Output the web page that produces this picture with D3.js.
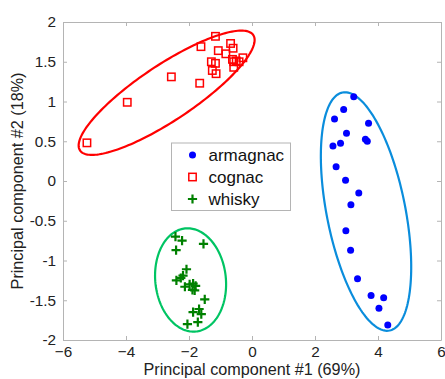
<!DOCTYPE html>
<head>
    <meta charset="utf-8">
    <style>
        body { margin: 0; background: #fff; }
        svg { position: absolute; top: 0; left: 0; font-family: 'Liberation Sans', Arial, sans-serif; }
        .axis path, .axis line { stroke: #b4b4b4; }
        .axis text { font-size: 15.3px; fill: #222; }
        .title { font-size: 16.2px; fill: #222; text-anchor: middle; }
        .legend text { font-size: 17px; fill: #111; }
    </style>
    <script src="https://d3js.org/d3.v7.min.js"></script>
</head>
<body>
<script>
    ////////////// Data //////////////

    const armagnacX = [3.23, 2.91, 2.62, 3.70, 3.00, 3.60, 3.66, 2.81, 2.57, 2.67,
                       2.97, 3.39, 3.14, 2.98, 3.13, 3.35, 3.78, 4.18, 4.03, 4.31]
    const armagnacY = [1.06, 0.90, 0.78, 0.725, 0.60, 0.525, 0.50, 0.475, 0.44, 0.18,
                       0.01, -0.15, -0.30, -0.625, -0.87, -1.23, -1.44, -1.47, -1.60, -1.81]

    const cognacX = [-5.24, -3.96, -2.56, -1.66, -1.62, -1.16, -1.07, -1.29, -1.16, -1.26,
                     -1.14, -0.83, -0.68, -0.60, -0.62, -0.58, -0.50, -0.58, -0.41, -0.29]
    const cognacY = [0.48, 0.99, 1.31, 1.23, 1.69, 1.82, 1.64, 1.50, 1.48, 1.39,
                     1.35, 1.60, 1.73, 1.67, 1.53, 1.50, 1.51, 1.43, 1.50, 1.55]

    const whiskyX = [-2.43, -2.22, -1.54, -2.41, -2.08, -2.19, -2.40, -2.26, -2.13, -1.98,
                     -1.87, -1.79, -1.89, -1.82, -1.50, -1.87, -1.68, -1.61, -1.72, -2.05]
    const whiskyY = [-0.70, -0.75, -0.79, -0.87, -1.11, -1.19, -1.25, -1.22, -1.33, -1.30,
                     -1.29, -1.32, -1.37, -1.375, -1.49, -1.65, -1.61, -1.675, -1.775, -1.80]

    //ellipses: centre, major semi-axis vector, minor semi-axis vector (data units)
    const ellipseCentres = [[3.62, -0.384], [-2.71, 1.11], [-1.95, -1.245]]
    const ellipseMajor = [[0.746, -1.497], [2.75, 0.726], [0.175, -0.648]]
    const ellipseMinor = [[1.225, 0.096], [0.49, -0.29], [1.114, 0.047]]

    const seriesNames = ["armagnac", "cognac", "whisky"]
    const xTicks = [-6, -4, -2, 0, 2, 4, 6]
    const yTicks = [-2, -1.5, -1, -0.5, 0, 0.5, 1, 1.5, 2]

    ////////////// Layout //////////////

    const W = 445, H = 379
    const margin = { top: 22, right: 4, bottom: 39, left: 63 }
    const width = W - margin.left - margin.right,
          height = H - margin.top - margin.bottom

    const markColors = ["#0000ff", "#ff0000", "#008000"]
    const ringColors = ["#0a8ddc", "#ff0000", "#00c463"]

    const svg = d3.select("body").append("svg")
        .attr("width", W).attr("height", H)
    const g = svg.append("g")
        .attr("transform", "translate(" + margin.left + "," + margin.top + ")")

    ////////////// Scales //////////////

    const x = d3.scaleLinear().domain([-6, 6]).range([0, width])
    const y = d3.scaleLinear().domain([-2, 2]).range([height, 0])

    ////////////// Axes (MATLAB style: box, inward ticks) //////////////

    g.append("g").attr("class", "axis")
        .attr("transform", "translate(0," + height + ")")
        .call(d3.axisBottom(x).tickValues(xTicks).tickSize(-4).tickSizeOuter(0).tickPadding(6)
            .tickFormat(d3.format("d")))
    g.append("g").attr("class", "axis")
        .call(d3.axisLeft(y).tickValues(yTicks).tickSize(-4).tickSizeOuter(0).tickPadding(7)
            .tickFormat(d => String(d)))
    g.append("g").attr("class", "axis")
        .call(d3.axisTop(x).tickValues(xTicks).tickSize(-4).tickSizeOuter(0).tickFormat(""))
    g.append("g").attr("class", "axis")
        .attr("transform", "translate(" + width + ",0)")
        .call(d3.axisRight(y).tickValues(yTicks).tickSize(-4).tickSizeOuter(0).tickFormat(""))

    g.selectAll(".axis text").style("font-family", "'Liberation Sans', Arial, sans-serif")
    g.selectAll(".axis .domain").attr("stroke", "#b4b4b4")

    ////////////// Ellipses //////////////

    const tt = d3.range(0, 2 * Math.PI + 0.01, Math.PI / 90)
    const line = d3.line().x(p => x(p[0])).y(p => y(p[1]))
    ellipseCentres.forEach((c, i) => {
        const u = ellipseMajor[i], v = ellipseMinor[i]
        const pts = tt.map(t => [c[0] + u[0] * Math.cos(t) + v[0] * Math.sin(t),
                                 c[1] + u[1] * Math.cos(t) + v[1] * Math.sin(t)])
        g.append("path").attr("d", line(pts) + "Z")
            .attr("fill", "none").attr("stroke", ringColors[i]).attr("stroke-width", 2.2)
    })

    ////////////// Markers //////////////

    const dot = (sel, c) => sel.append("circle").attr("r", 3.5).attr("fill", c)
    const square = (sel, c) => sel.append("rect").attr("x", -3.7).attr("y", -3.7)
        .attr("width", 7.4).attr("height", 7.4)
        .attr("fill", "none").attr("stroke", c).attr("stroke-width", 1.5)
    const plus = (sel, c) => sel.append("path").attr("d", "M-4.6,0H4.6M0,-4.6V4.6")
        .attr("stroke", c).attr("stroke-width", 2.2).attr("fill", "none")
    const markers = [dot, square, plus]

    const series = [[armagnacX, armagnacY], [cognacX, cognacY], [whiskyX, whiskyY]]
    series.forEach((s, i) => {
        s[0].forEach((xv, j) => {
            const m = g.append("g")
                .attr("transform", "translate(" + x(xv) + "," + y(s[1][j]) + ")")
            markers[i](m, markColors[i])
        })
    })

    ////////////// Legend //////////////

    const legend = svg.append("g").attr("class", "legend")
        .attr("transform", "translate(171.5,143)")
    legend.append("rect").attr("width", 119).attr("height", 67.5)
        .attr("fill", "#fff").attr("stroke", "#b4b4b4").attr("stroke-width", 1)
    seriesNames.forEach((name, i) => {
        const row = legend.append("g").attr("transform", "translate(21," + (12 + i * 22) + ")")
        markers[i](row, markColors[i])
        row.append("text").attr("x", 16).attr("dy", "0.35em").text(name)
    })

    ////////////// Titles //////////////

    svg.append("text").attr("class", "title")
        .attr("x", margin.left + x(0)).attr("y", 375)
        .text("Principal component #1 (69%)")
    svg.append("text").attr("class", "title")
        .attr("transform", "translate(23," + (margin.top + y(0)) + ") rotate(-90)")
        .text("Principal component #2 (18%)")
</script>
</body>
